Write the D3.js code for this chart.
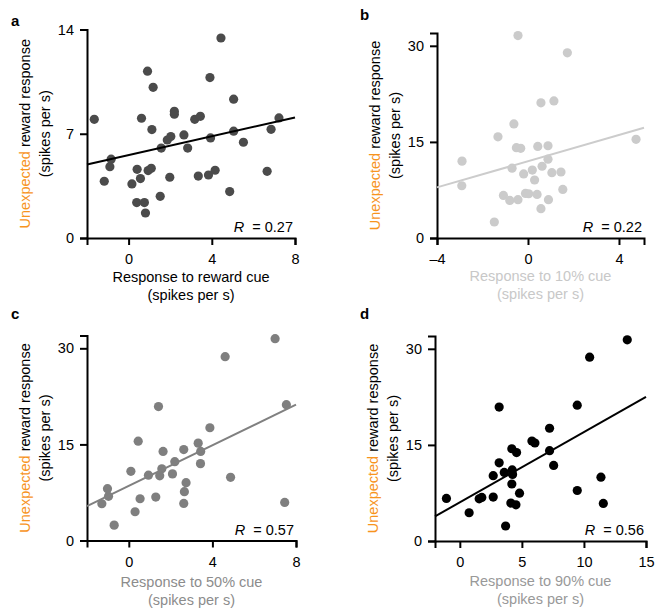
<!DOCTYPE html>
<html>
<head>
<meta charset="utf-8">
<script src="https://cdn.jsdelivr.net/npm/d3@7"></script>
<style>
  body { margin: 0; background: #fff; }
  svg { font-family: "Liberation Sans", Arial, Helvetica, sans-serif; }
</style>
</head>
<body>
<div id="chart"></div>
<script>
// values: [cue response, unexpected reward response]
var pointsA = [
    [-1.65, 7.97], [-1.17, 3.81], [-0.84, 5.29], [-0.90, 4.79], [0.16, 3.63], [0.41, 4.61],
    [0.39, 2.38], [0.57, 3.99], [0.76, 2.38], [0.81, 1.68], [0.62, 8.04], [0.91, 11.2],
    [1.18, 10.12], [1.12, 7.28], [0.94, 4.53], [1.09, 4.68], [1.52, 2.80], [1.57, 6.04],
    [1.86, 6.58], [2.03, 6.81], [1.98, 4.08], [2.20, 8.51], [2.20, 8.31], [2.66, 6.92],
    [2.84, 6.04], [3.18, 7.97], [3.45, 8.17], [3.35, 4.16], [3.91, 10.77], [3.94, 6.72],
    [3.84, 4.23], [4.16, 4.55], [4.44, 13.43], [4.86, 3.12], [5.05, 9.32], [5.05, 7.17],
    [5.52, 6.43], [6.66, 4.48], [6.85, 7.30], [7.23, 8.06]
];
var pointsB = [
    [-0.44, 31.6], [1.73, 28.9], [0.57, 21.1], [1.14, 21.4], [-0.62, 17.8], [-1.32, 15.8],
    [4.75, 15.4], [-0.51, 14.1], [-0.32, 14.0], [0.43, 14.3], [0.88, 14.4], [0.88, 12.3],
    [0.62, 11.2], [0.19, 10.6], [-0.70, 10.9], [-0.19, 10.0], [1.05, 10.2], [1.45, 10.3],
    [0.29, 9.05], [-2.90, 12.0], [-2.91, 8.16], [-1.08, 6.65], [-0.80, 5.87], [-0.44, 5.98],
    [-0.11, 6.96], [0.03, 6.91], [0.40, 6.80], [0.90, 5.98], [1.53, 7.58], [0.57, 4.57],
    [-1.48, 2.50]
];
var pointsC = [
    [7.0, 31.5], [4.61, 28.7], [7.54, 21.2], [1.42, 20.9], [3.88, 17.6], [0.45, 15.5],
    [3.32, 15.2], [2.63, 14.2], [1.64, 13.9], [3.44, 13.9], [3.43, 12.0], [2.20, 12.3],
    [1.58, 11.2], [0.10, 10.8], [0.94, 10.2], [1.48, 10.1], [2.09, 10.4], [4.87, 9.86],
    [2.74, 9.03], [2.66, 7.62], [-1.02, 8.09], [-0.97, 6.89], [-1.29, 5.74], [0.54, 6.52],
    [1.29, 6.78], [2.63, 5.79], [0.30, 4.49], [7.46, 5.95], [-0.70, 2.40]
];
var pointsD = [
    [13.49, 31.4], [10.46, 28.7], [9.46, 21.2], [3.17, 20.9], [7.23, 17.6], [5.81, 15.6],
    [6.05, 15.3], [4.19, 14.4], [4.57, 13.8], [7.23, 14.1], [3.17, 12.2], [7.56, 11.8],
    [4.22, 11.1], [3.58, 10.7], [2.69, 10.2], [4.25, 10.4], [11.37, 9.97], [4.19, 8.9],
    [4.81, 7.47], [9.46, 7.88], [-1.08, 6.64], [1.56, 6.59], [1.77, 6.8], [2.69, 6.85],
    [4.11, 5.92], [4.52, 5.65], [11.56, 5.86], [0.75, 4.41], [3.69, 2.34]
];

// regression lines, end points as drawn
var fitA = [[-2, 4.93], [8, 8.09]];
var fitB = [[-4, 7.9], [5.1, 17.2]];
var fitC = [[-2, 5.37], [8, 21.2]];
var fitD = [[-2, 3.84], [15, 22.5]];

var xTicksA = [0, 4, 8], yTicksA = [0, 7, 14];
var xTicksB = [-4, 0, 4], yTicksB = [0, 15, 30];
var xTicksC = [0, 4, 8], yTicksC = [0, 15, 30];
var xTicksD = [0, 5, 10, 15], yTicksD = [0, 15, 30];

var rValues = ["0.27", "0.22", "0.57", "0.56"];
var panelLetters = ["a", "b", "c", "d"];
var cueNames = ["Response to reward cue", "Response to 10% cue", "Response to 50% cue", "Response to 90% cue"];

var W = 660, H = 616;
var svg = d3.select("#chart").append("svg")
    .attr("width", W)
    .attr("height", H);

var FS = 14.5;
var ORANGE = "#f7941e";

function drawPanel(p) {
    var x = d3.scaleLinear().domain(p.xDomain).range([p.left, p.right]);
    var y = d3.scaleLinear().domain(p.yDomain).range([p.bottom, p.top]);
    var g = svg.append("g");

    // axes
    var xAxis = d3.axisBottom(x).tickValues(p.xTicks).tickSize(7).tickPadding(9)
        .tickFormat(function (d) { return d < 0 ? "\u2013" + Math.abs(d) : d; });
    var yAxis = d3.axisLeft(y).tickValues(p.yTicks).tickSize(7).tickPadding(6);

    g.append("g").attr("class", "x axis")
        .attr("transform", "translate(0," + p.bottom + ")")
        .call(xAxis);
    g.append("g").attr("class", "y axis")
        .attr("transform", "translate(" + p.left + ",0)")
        .call(yAxis);

    g.selectAll(".axis path").attr("stroke", "#000").attr("stroke-width", 2);
    g.selectAll(".axis line").attr("stroke", "#000").attr("stroke-width", 2);
    g.selectAll(".axis text").attr("fill", "#000").style("font-size", FS + "px")
        .style("font-family", "'Liberation Sans', Arial, sans-serif");

    // dots
    g.append("g").selectAll("circle")
        .data(p.points)
        .enter().append("circle")
        .attr("cx", function (d) { return x(d[0]); })
        .attr("cy", function (d) { return y(d[1]); })
        .attr("r", 4.6)
        .attr("fill", p.dotColor);

    // regression line
    g.append("path")
        .attr("d", d3.line().x(function (d) { return x(d[0]); }).y(function (d) { return y(d[1]); })(p.fit))
        .attr("stroke", p.lineColor)
        .attr("stroke-width", 2)
        .attr("fill", "none");

    // R value
    var rt = g.append("text")
        .attr("x", p.right - 2)
        .attr("y", p.bottom - 6)
        .attr("text-anchor", "end")
        .style("font-size", FS + "px");
    rt.append("tspan").style("font-style", "italic").text("R");
    rt.append("tspan").text("\u00a0 = " + p.r);

    // panel letter
    g.append("text")
        .attr("x", p.letterX)
        .attr("y", p.letterY)
        .style("font-size", "15px")
        .style("font-weight", "bold")
        .text(p.letter);

    // x label
    var midX = (p.left + p.right) / 2;
    g.append("text")
        .attr("x", midX).attr("y", p.bottom + p.xlab)
        .attr("dy", "0.35em")
        .attr("text-anchor", "middle")
        .attr("fill", p.labelColor)
        .style("font-size", FS + "px")
        .text(p.cue);
    g.append("text")
        .attr("x", midX).attr("y", p.bottom + p.xlab + 18)
        .attr("dy", "0.35em")
        .attr("text-anchor", "middle")
        .attr("fill", p.labelColor)
        .style("font-size", FS + "px")
        .text("(spikes per s)");

    // y label (rotated)
    var midY = (p.top + p.bottom) / 2;
    var yl = g.append("text")
        .attr("transform", "translate(" + (p.left - 62) + "," + midY + ") rotate(-90)")
        .attr("dy", "0.35em")
        .attr("text-anchor", "middle")
        .style("font-size", FS + "px");
    yl.append("tspan").attr("fill", ORANGE).text("Unexpected");
    yl.append("tspan").attr("fill", "#000").text(" reward response");
    g.append("text")
        .attr("transform", "translate(" + (p.left - 42) + "," + midY + ") rotate(-90)")
        .attr("dy", "0.35em")
        .attr("text-anchor", "middle")
        .style("font-size", FS + "px")
        .text("(spikes per s)");
}

drawPanel({
    letter: panelLetters[0], letterX: 11, letterY: 26,
    left: 87, right: 295, top: 29.5, bottom: 238, xlab: 39,
    xDomain: [-2, 8], yDomain: [0, 14], xTicks: xTicksA, yTicks: yTicksA,
    points: pointsA, fit: fitA, r: rValues[0], cue: cueNames[0],
    dotColor: "#4b4b4b", lineColor: "#000", labelColor: "#000"
});
drawPanel({
    letter: panelLetters[1], letterX: 360, letterY: 20,
    left: 437, right: 644, top: 33, bottom: 238, xlab: 38,
    xDomain: [-4, 5.1], yDomain: [0, 32], xTicks: xTicksB, yTicks: yTicksB,
    points: pointsB, fit: fitB, r: rValues[1], cue: cueNames[1],
    dotColor: "#cbcbcb", lineColor: "#cccccc", labelColor: "#c8c8c8"
});
drawPanel({
    letter: panelLetters[2], letterX: 11, letterY: 319,
    left: 87, right: 296, top: 335.5, bottom: 540.5, xlab: 41,
    xDomain: [-2, 8], yDomain: [0, 32], xTicks: xTicksC, yTicks: yTicksC,
    points: pointsC, fit: fitC, r: rValues[2], cue: cueNames[2],
    dotColor: "#7f7f7f", lineColor: "#808080", labelColor: "#8c8c8c"
});
drawPanel({
    letter: panelLetters[3], letterX: 360, letterY: 319,
    left: 435, right: 646, top: 336, bottom: 541, xlab: 40,
    xDomain: [-2, 15], yDomain: [0, 32], xTicks: xTicksD, yTicks: yTicksD,
    points: pointsD, fit: fitD, r: rValues[3], cue: cueNames[3],
    dotColor: "#000", lineColor: "#000", labelColor: "#999999"
});
</script>
</body>
</html>
